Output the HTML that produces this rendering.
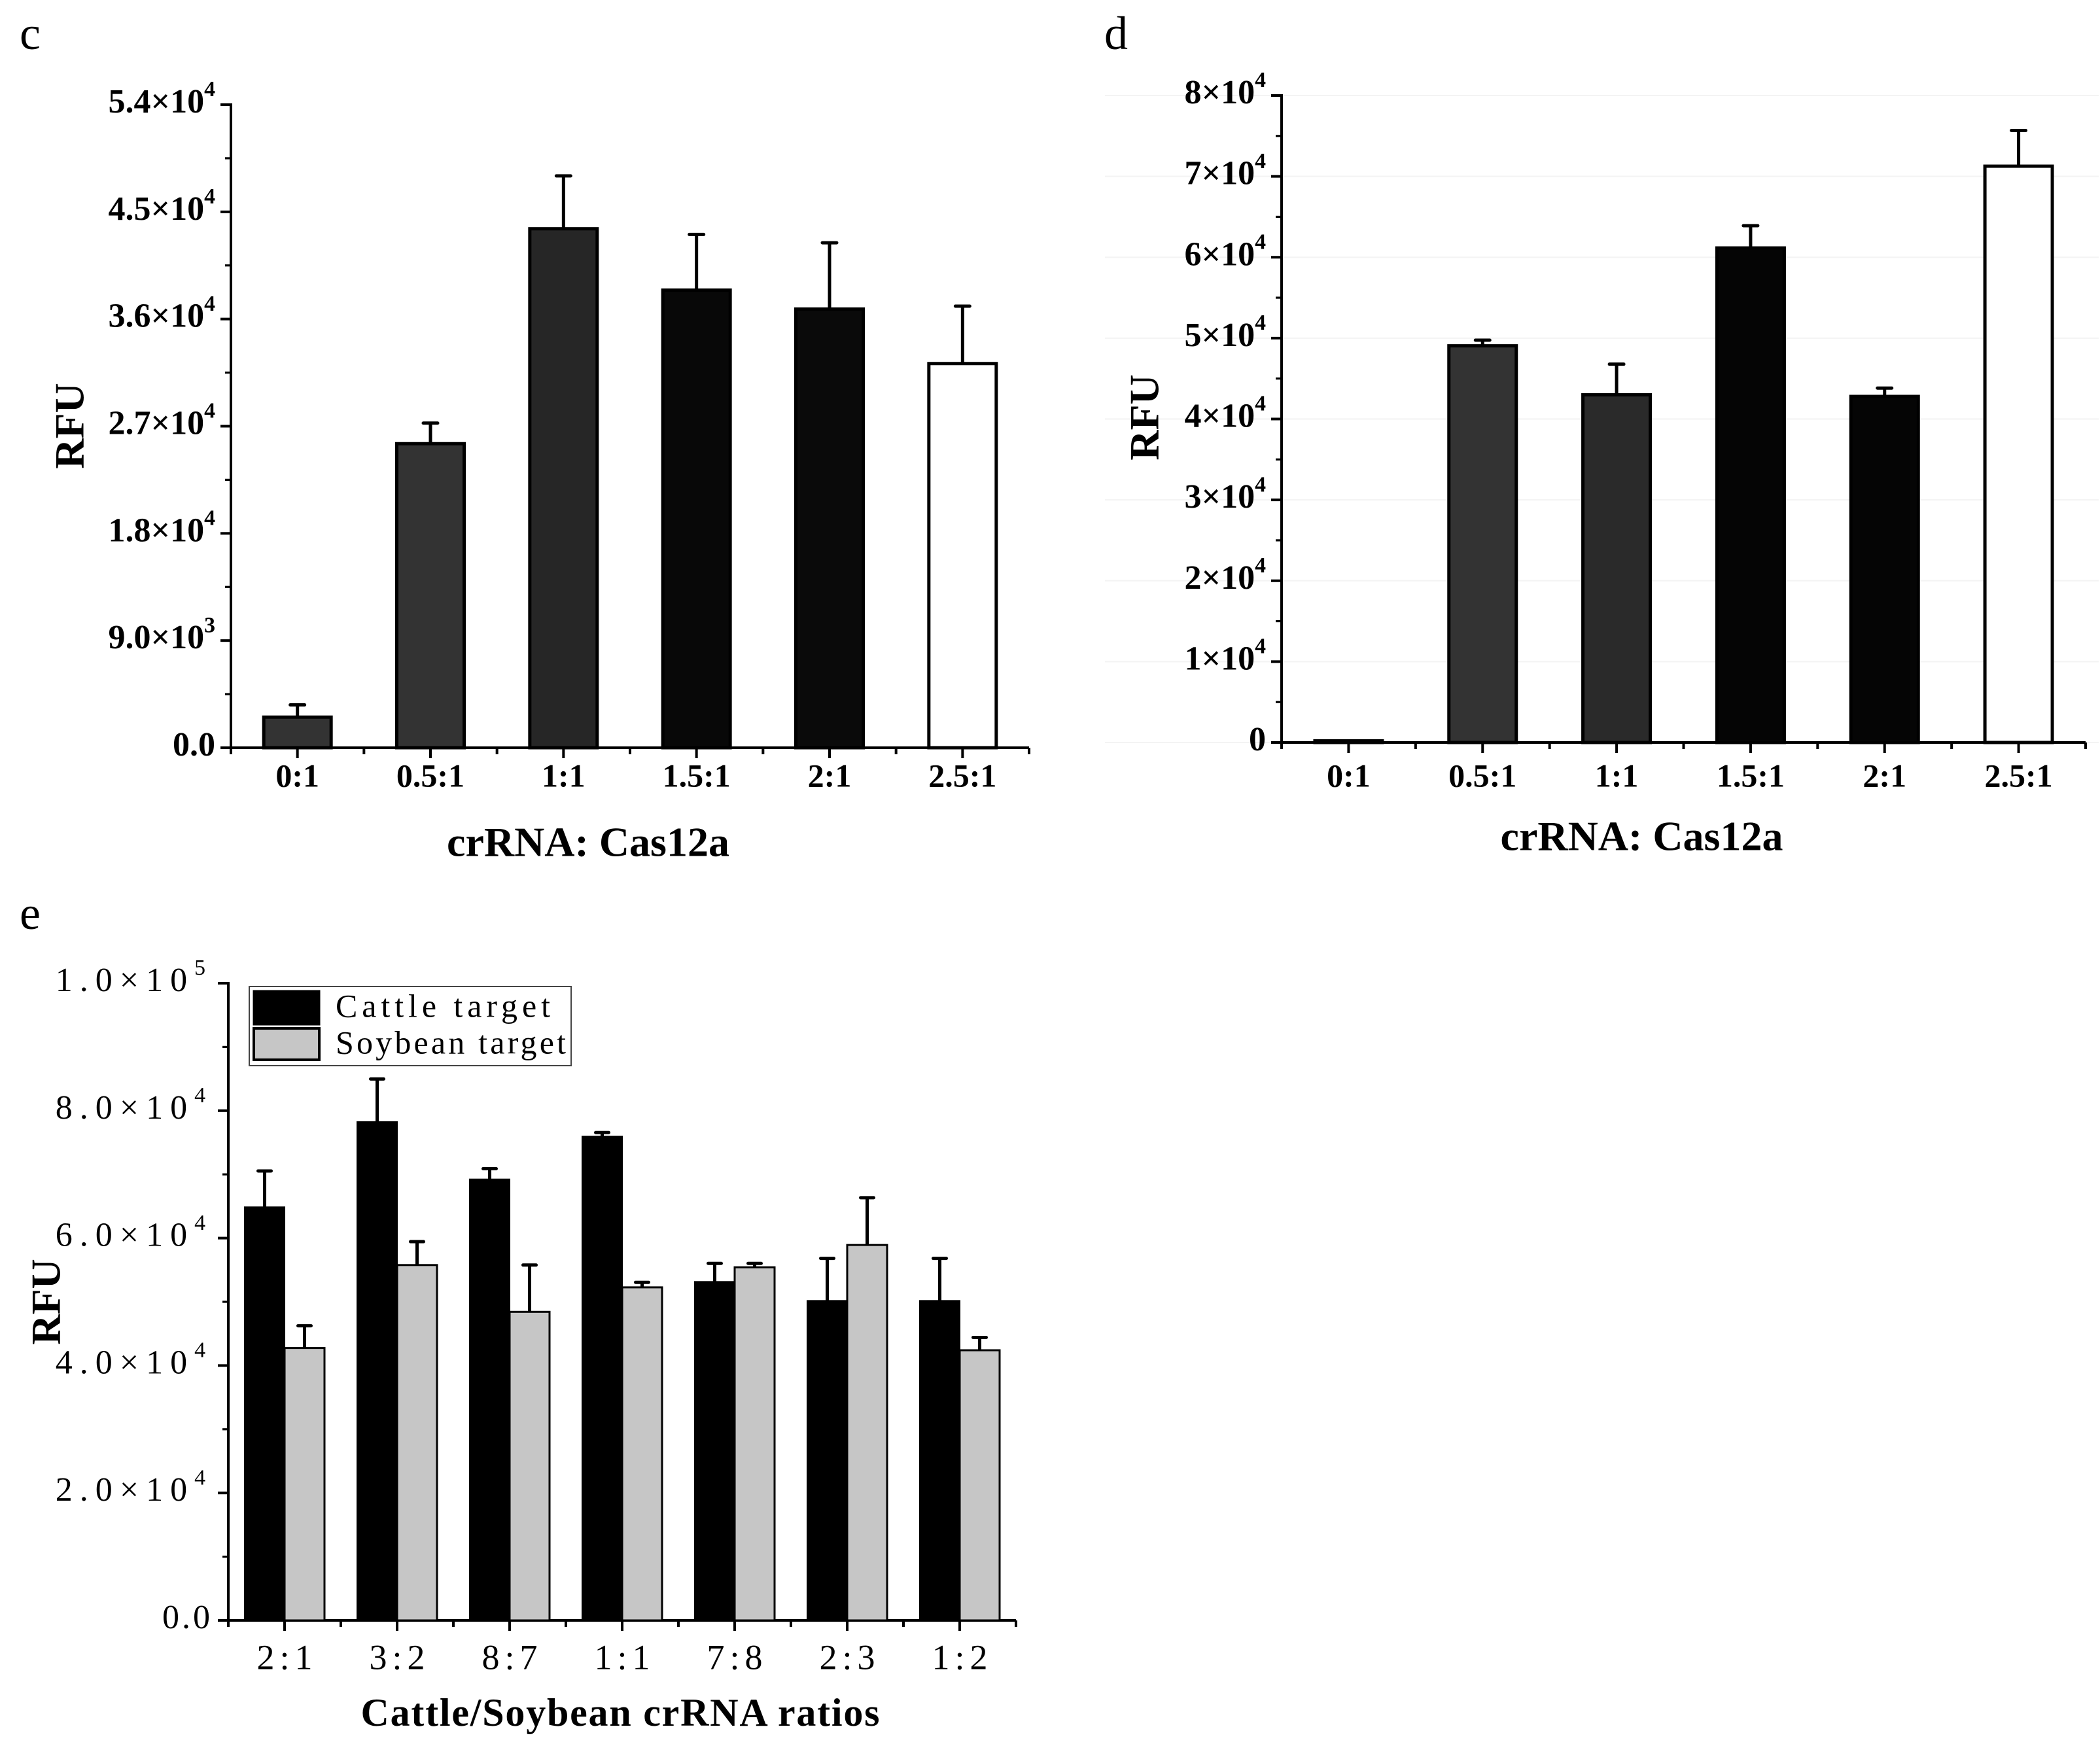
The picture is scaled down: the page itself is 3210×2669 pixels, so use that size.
<!DOCTYPE html>
<html><head><meta charset="utf-8"><style>
html,body{margin:0;padding:0;background:#fff}
svg{display:block}
.tb{font-family:"Liberation Serif",serif;font-weight:bold;fill:#000}
.tn{font-family:"Liberation Serif","Noto Serif CJK SC",serif;fill:#000}
</style></head><body>
<svg id="fig" xmlns="http://www.w3.org/2000/svg" width="3210" height="2669" viewBox="0 0 3210 2669">
<text class="tn" x="30" y="75" font-size="72">c</text>
<text class="tn" x="1688" y="75" font-size="72">d</text>
<text class="tn" x="30" y="1420" font-size="72">e</text>
<g id="c"></g>
<g id="d"></g>
<g id="e"></g>
</svg>
<script>
// Panel c data
const cCats = ["0:1","0.5:1","1:1","1.5:1","2:1","2.5:1"];
const cVals = [2570, 25530, 43580, 38430, 36840, 32260];
const cErrs = [1030, 1730, 4440, 4670, 5560, 4820];
const cTicks = [0, 9000, 18000, 27000, 36000, 45000, 54000];
const cTickLabels = ["0.0","9.0×10|3","1.8×10|4","2.7×10|4","3.6×10|4","4.5×10|4","5.4×10|4"];
const cFills = ["#333","#333","#262626","#080808","#0a0a0a","#fff"];
// Panel d data
const dCats = ["0:1","0.5:1","1:1","1.5:1","2:1","2.5:1"];
const dVals = [200, 49050, 42990, 61150, 42790, 71260];
const dErrs = [0, 700, 3790, 2750, 1030, 4410];
const dTicks = [0, 10000, 20000, 30000, 40000, 50000, 60000, 70000, 80000];
const dTickLabels = ["0","1×10|4","2×10|4","3×10|4","4×10|4","5×10|4","6×10|4","7×10|4","8×10|4"];
const dFills = ["#333","#333","#2a2a2a","#050505","#050505","#fff"];
// Panel e data
const eCats = ["2:1","3:2","8:7","1:1","7:8","2:3","1:2"];
const eCattle = [64860, 78230, 69230, 75960, 53150, 50170, 50170];
const eCattleErr = [5680, 6740, 1660, 610, 2880, 6650, 6650];
const eSoy = [42750, 55770, 48430, 52270, 55420, 58920, 42400];
const eSoyErr = [3490, 3670, 7340, 790, 610, 7420, 2010];
const eTicks = [0, 20000, 40000, 60000, 80000, 100000];
const eTickLabels = ["0.0","2.0×10|4","4.0×10|4","6.0×10|4","8.0×10|4","1.0×10|5"];

const NS = "http://www.w3.org/2000/svg";
function mk(parent, tag, attrs, text){
  const el = document.createElementNS(NS, tag);
  for (const k in attrs) el.setAttribute(k, attrs[k]);
  if (text !== undefined) el.textContent = text;
  parent.appendChild(el);
  return el;
}
function yScale(y0, y1, max){ return v => y0 - (v / max) * (y0 - y1); }

function tickLabel(g, cls, x, y, lab, fs, spread){
  const parts = lab.split("|");
  const attrs = {class: cls, x: x, y: y, "font-size": fs, "text-anchor": "end", "dominant-baseline": "middle"};
  if (spread) {
    attrs["letter-spacing"] = parts[1] ? 11 : 4;
  }
  const t = mk(g, "text", attrs);
  
  
  mk(t, "tspan", {}, parts[0]);
  if (parts[1]) {
    mk(t, "tspan", {dy: -fs*0.4, "font-size": fs*0.65}, parts[1]);
  }
  return t;
}

function axes(g, x0, x1, y0, y1, max, ticks, labels, minorStep, nCats, cls, fs, lw, spread){
  const ys = yScale(y0, y1, max);
  const ax = mk(g, "path", {d:`M${x0},${y1-2} V${y0} H${x1}`, fill:"none", stroke:"#000", "stroke-width": lw});
  
  
  ticks.forEach((v, i) => {
    const y = ys(v);
    const tk = mk(g, "line", {x1: x0 - 16, x2: x0, y1: y, y2: y, stroke: "#000", "stroke-width": lw});
    
    
    tickLabel(g, cls, x0 - 24, y, labels[i], fs, spread);
  });
  for (let v = minorStep; v < max; v += minorStep) {
    if (ticks.indexOf(v) >= 0) continue;
    const y = ys(v);
    const mt = mk(g, "line", {x1: x0 - 9, x2: x0, y1: y, y2: y, stroke: "#000", "stroke-width": lw*0.8});
    
    
  }
  const band = (x1 - x0) / nCats;
  for (let i = 0; i <= nCats * 2; i++) {
    const x = x0 + i * band / 2;
    const major = i % 2 === 1;
    const xt = mk(g, "line", {x1: x, x2: x, y1: y0, y2: y0 + (major ? 16 : 10), stroke: "#000", "stroke-width": lw});
    
    
  }
  return {ys, band};
}

function errBar(g, x, yTop, yErr, lw, cap){
  const l = mk(g, "path", {d:`M${x},${yTop} V${yErr} M${x-cap/2},${yErr} H${x+cap/2}`, stroke:"#000", "stroke-width": lw, fill:"none", "stroke-linecap":"round"});
  
  
}

function single(gid, x0, x1, y0, y1, max, ticks, labels, minor, cats, vals, errs, fills, grid){
  const g = document.getElementById(gid);
  if (grid) {
    const ysg = yScale(y0, y1, max);
    ticks.forEach(v => {
      const gl = mk(g, "line", {x1: x0 - 270, x2: x1 + 20, y1: ysg(v), y2: ysg(v), stroke: "#f3f3f3", "stroke-width": 2});
      
      
    });
  }
  const {ys, band} = axes(g, x0, x1, y0, y1, max, ticks, labels, minor, cats.length, "tb", 52, 4, false);
  const bw = 103;
  cats.forEach((c, i) => {
    const cx = x0 + band * (i + 0.5);
    if (errs[i] > 0) errBar(g, cx, ys(vals[i]), ys(vals[i] + errs[i]), 5, 22);
    const r = mk(g, "rect", {x: cx - bw/2, y: ys(vals[i]), width: bw, height: y0 - ys(vals[i]), fill: fills[i], stroke: "#000", "stroke-width": 5});
    
    
    const t = mk(g, "text", {class: "tb", x: cx, y: 1191, "font-size": 50, "text-anchor": "middle", "dominant-baseline": "middle"}, c);
    
    
  });
  const xt = mk(g, "text", {class: "tb", x: (x0 + x1) / 2 - 64, y: gid === "c" ? 1294 : 1285, "font-size": 64, "text-anchor": "middle", "dominant-baseline": "middle"}, "crRNA: Cas12a");
  
  
  const yx = gid === "c" ? 113 : 1756, yy = gid === "c" ? 651 : 638;
  const yt = mk(g, "text", {class: "tb", x: yx, y: yy, "font-size": 64, "text-anchor": "middle", "dominant-baseline": "middle", transform: `rotate(-90 ${yx} ${yy})`}, "RFU");
  
  
}

single("c", 353, 1573, 1143, 160, 54000, cTicks, cTickLabels, 4500, cCats, cVals, cErrs, cFills, false);
single("d", 1959, 3188, 1135, 146, 80000, dTicks, dTickLabels, 5000, dCats, dVals, dErrs, dFills, true);

// Panel e
(function(){
  const g = document.getElementById("e");
  const x0 = 349, x1 = 1553, y0 = 2477, y1 = 1503, max = 100000;
  const {ys, band} = axes(g, x0, x1, y0, y1, max, eTicks, eTickLabels, 10000, eCats.length, "tn", 52, 4, true);
  const bw = 61;
  eCats.forEach((c, i) => {
    const cx = x0 + band * (i + 0.5);
    errBar(g, cx - bw/2, ys(eCattle[i]), ys(eCattle[i] + eCattleErr[i]), 5, 20);
    errBar(g, cx + bw/2, ys(eSoy[i]), ys(eSoy[i] + eSoyErr[i]), 5, 20);
    const r1 = mk(g, "rect", {x: cx - bw, y: ys(eCattle[i]), width: bw, height: y0 - ys(eCattle[i]), fill: "#000", stroke: "#000", "stroke-width": 2});
    
    
    const r2 = mk(g, "rect", {x: cx, y: ys(eSoy[i]), width: bw, height: y0 - ys(eSoy[i]), fill: "#c6c6c6", stroke: "#000", "stroke-width": 3});
    
    
    const t = mk(g, "text", {class: "tn", x: cx + 4, y: 2539, "font-size": 54, "text-anchor": "middle", "dominant-baseline": "middle", "letter-spacing": "8"}, c);
    
    
  });
  const xt = mk(g, "text", {class: "tb", x: (x0 + x1) / 2 - 3, y: 2624, "font-size": 60, "text-anchor": "middle", "dominant-baseline": "middle", textLength: 793}, "Cattle/Soybean crRNA ratios");
  
  
  const yt = mk(g, "text", {class: "tb", x: 77, y: 1990, "font-size": 64, "text-anchor": "middle", "dominant-baseline": "middle", transform: "rotate(-90 77 1990)"}, "RFU");
  
  
  // legend
  const lg = mk(g, "g", {});
  
  
  mk(lg, "rect", {x: 381, y: 1508, width: 492, height: 121, fill: "#fff", stroke: "#444", "stroke-width": 2});
  const s1 = mk(lg, "rect", {x: 388, y: 1515, width: 100, height: 51, fill: "#000", stroke: "#000", "stroke-width": 3});
  
  
  const s2 = mk(lg, "rect", {x: 388, y: 1572, width: 100, height: 48, fill: "#c6c6c6", stroke: "#000", "stroke-width": 4});
  
  
  const l1 = mk(lg, "text", {class: "tn", x: 513, y: 1543, "font-size": 50, "dominant-baseline": "middle", textLength: 328}, "Cattle target");
  
  
  const l2 = mk(lg, "text", {class: "tn", x: 513, y: 1599, "font-size": 50, "dominant-baseline": "middle", textLength: 352}, "Soybean target");
  
  
})();
</script>
</body></html>
